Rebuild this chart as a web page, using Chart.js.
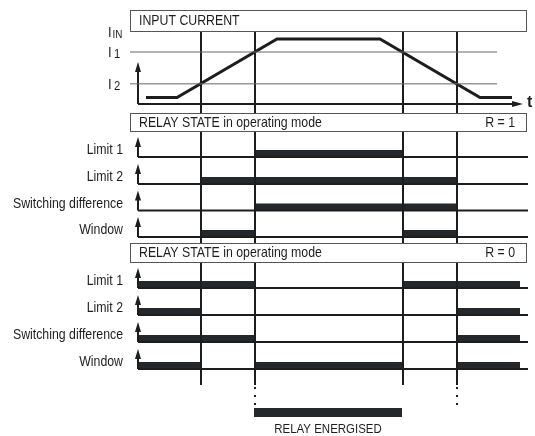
<!DOCTYPE html>
<html>
<head>
<meta charset="utf-8">
<script src="https://cdn.jsdelivr.net/npm/chart.js@4.4.1/dist/chart.umd.min.js"></script>
<style>
  html, body { margin: 0; padding: 0; background: #fff; }
</style>
</head>
<body>
<canvas id="relayChart" width="535" height="436"></canvas>
<script>
// time of the four switching points (I2 up, I1 up, I1 down, I2 down)
const eventTimes = [6.3, 11.7, 26.5, 31.9];

// input current trace
const currentTimes = [0.8, 3.9, 13.9, 24.2, 34.2, 37.4];
const currentValues = [0.1, 0.1, 1.0, 1.0, 0.1, 0.1];

// threshold levels
const levelNames = ['IN', '1', '2'];
const levelValues = [1.1, 0.8, 0.31];

// relay rows and their "on" intervals
const rowNames = ['Limit 1', 'Limit 2', 'Switching difference', 'Window'];
const onR1 = [
    [[11.7, 26.5]],
    [[6.3, 31.9]],
    [[11.7, 31.9]],
    [[6.3, 11.7], [26.5, 31.9]],
];
const onR0 = [
    [[0, 11.7], [26.5, 38.2]],
    [[0, 6.3], [31.9, 38.2]],
    [[0, 11.7], [31.9, 38.2]],
    [[0, 6.3], [11.7, 26.5], [31.9, 38.2]],
];
const energised = [11.6, 26.4];

// ---- layout (vertical units of the y scale) ----
const curBase = 104;
const curHeight = 65;
const boxes = [
    { top: 10, bottom: 31, left: 'INPUT CURRENT', right: '' },
    { top: 113, bottom: 131, left: 'RELAY STATE in operating mode', right: 'R = 1' },
    { top: 243, bottom: 262, left: 'RELAY STATE in operating mode', right: 'R = 0' },
];
const baseR1 = [157, 184, 210.5, 237];
const baseR0 = [288, 315, 342, 369];
const ink = '#1b1d1f';
const barInk = '#25282b';

function curY(v) {
    return curBase - v * curHeight;
}

const datasets = [];
function seg(points, color, width, extra) {
    datasets.push(Object.assign({
        data: points,
        borderColor: color,
        borderWidth: width,
        pointRadius: 0,
        fill: false,
        tension: 0,
        borderCapStyle: 'butt',
        borderJoinStyle: 'miter',
        spanGaps: false,
    }, extra || {}));
}

// threshold lines I1, I2
seg([{ x: -0.8, y: curY(levelValues[1]) }, { x: 35.9, y: curY(levelValues[1]) }], '#666', 1);
seg([{ x: -0.8, y: curY(levelValues[2]) }, { x: 35.9, y: curY(levelValues[2]) }], '#666', 1);

// current axes
seg([{ x: 0, y: curBase }, { x: 37.6, y: curBase }], ink, 2);
seg([{ x: 0, y: curBase }, { x: 0, y: 70 }], ink, 2);

// input current
seg(currentTimes.map((t, i) => ({ x: t, y: curY(currentValues[i]) })), ink, 3);

// vertical switching lines, broken by the header boxes
eventTimes.forEach(t => {
    seg([
        { x: t, y: boxes[0].bottom }, { x: t, y: boxes[1].top }, { x: t, y: null },
        { x: t, y: boxes[1].bottom }, { x: t, y: boxes[2].top }, { x: t, y: null },
        { x: t, y: boxes[2].bottom }, { x: t, y: 385 },
    ], ink, 2);
});
[eventTimes[1], eventTimes[3]].forEach(t => {
    seg([{ x: t, y: 387 }, { x: t, y: 408 }], ink, 2, { borderDash: [2, 6] });
});

// relay rows
function relayRows(bases, intervals) {
    bases.forEach((b, i) => {
        seg([{ x: 0, y: b }, { x: 39.0, y: b }], ink, 2);
        seg([{ x: 0, y: b }, { x: 0, y: b - 12 }], ink, 2);
        intervals[i].forEach(iv => {
            seg([{ x: iv[0], y: b - 3.5 }, { x: iv[1], y: b - 3.5 }], barInk, 7);
        });
    });
}
relayRows(baseR1, onR1);
relayRows(baseR0, onR0);

// relay energised bar
seg([{ x: energised[0], y: 412.5 }, { x: energised[1], y: 412.5 }], barInk, 9);

function sqText(ctx, str, x, y, size, align, squeeze) {
    ctx.save();
    ctx.font = size + 'px "Liberation Sans", Arial, sans-serif';
    ctx.textBaseline = 'middle';
    ctx.textAlign = align;
    ctx.translate(x, y);
    ctx.scale(squeeze, 1);
    ctx.fillText(str, 0, 0);
    ctx.restore();
}

function arrowUp(ctx, x, yTip) {
    ctx.beginPath();
    ctx.moveTo(x, yTip);
    ctx.lineTo(x - 3, yTip + 10);
    ctx.lineTo(x + 3, yTip + 10);
    ctx.closePath();
    ctx.fill();
}

const decor = {
    id: 'decor',
    afterDatasetsDraw(chart) {
        const ctx = chart.ctx;
        const xs = chart.scales.x;
        const ys = chart.scales.y;
        const px = t => xs.getPixelForValue(t);
        const py = v => ys.getPixelForValue(v);
        ctx.save();
        ctx.fillStyle = ink;

        // header boxes
        boxes.forEach(b => {
            const l = px(-0.8), r = px(38.8);
            ctx.fillStyle = '#fff';
            ctx.fillRect(l, py(b.top), r - l, py(b.bottom) - py(b.top));
            ctx.strokeStyle = '#555';
            ctx.lineWidth = 1;
            ctx.strokeRect(Math.round(l) + 0.5, Math.round(py(b.top)) + 0.5, r - l, py(b.bottom) - py(b.top));
            ctx.fillStyle = '#1e1e1e';
            const mid = (py(b.top) + py(b.bottom)) / 2 + 0.5;
            sqText(ctx, b.left, px(0.1), mid, 14.5, 'left', 0.85);
            if (b.right) sqText(ctx, b.right, px(37.7), mid, 14.5, 'right', 0.85);
        });

        // axis arrow heads
        ctx.fillStyle = ink;
        arrowUp(ctx, px(0), py(62));
        ctx.beginPath();
        ctx.moveTo(px(38.5), py(curBase));
        ctx.lineTo(px(37.4), py(curBase) - 3);
        ctx.lineTo(px(37.4), py(curBase) + 3);
        ctx.closePath();
        ctx.fill();
        ctx.font = 'bold 16px "Liberation Sans", Arial, sans-serif';
        ctx.textBaseline = 'middle';
        ctx.textAlign = 'left';
        ctx.fillText('t', px(38.9), py(curBase) - 1);

        // level labels
        ctx.fillStyle = '#1e1e1e';
        levelNames.forEach((n, i) => {
            const y = py(curY(levelValues[i]));
            if (n === 'IN') {
                sqText(ctx, 'I', px(-3.0), y, 14.5, 'left', 0.9);
                sqText(ctx, n, px(-2.55), y + 2, 11, 'left', 0.9);
            } else {
                sqText(ctx, 'I', px(-3.0), y + 1, 14.5, 'left', 0.9);
                sqText(ctx, n, px(-2.4), y + 3, 12.5, 'left', 0.9);
            }
        });

        // relay row arrows and labels
        [baseR1, baseR0].forEach(bases => {
            bases.forEach((b, i) => {
                ctx.fillStyle = ink;
                arrowUp(ctx, px(0), py(b - 20));
                ctx.fillStyle = '#1e1e1e';
                sqText(ctx, rowNames[i], px(-1.5), py(b - 7), 14.5, 'right', 0.85);
            });
        });

        sqText(ctx, 'RELAY ENERGISED', px((energised[0] + energised[1]) / 2), py(429), 13.5, 'center', 0.85);
        ctx.restore();
    },
};

new Chart(document.getElementById('relayChart'), {
    type: 'line',
    data: { datasets: datasets },
    options: {
        responsive: false,
        animation: false,
        events: [],
        layout: { padding: 0 },
        scales: {
            x: { type: 'linear', min: -13.8, max: 39.7, display: false },
            y: { type: 'linear', min: 0, max: 436, reverse: true, display: false },
        },
        plugins: {
            legend: { display: false },
            tooltip: { enabled: false },
        },
    },
    plugins: [decor],
});
</script>
</body>
</html>
